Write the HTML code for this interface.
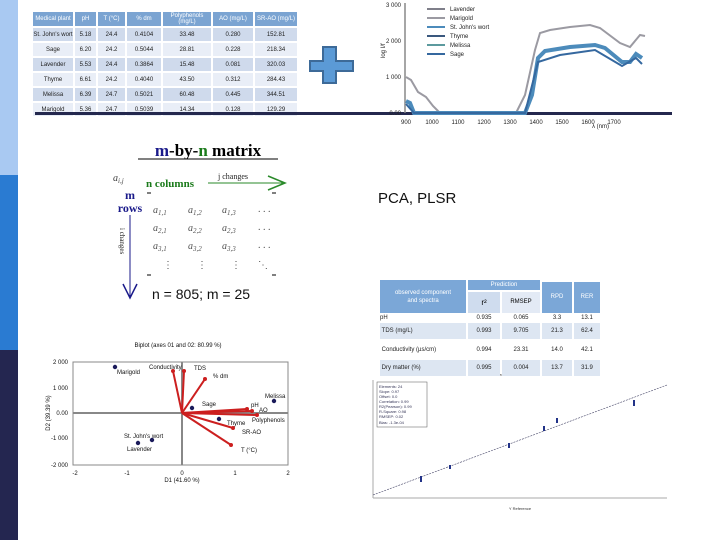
<!DOCTYPE html>
<html><head><meta charset="utf-8"><style>
body{margin:0;width:720px;height:540px;background:#fff;position:relative;overflow:hidden;font-family:"Liberation Sans",sans-serif}
.a{position:absolute}
table{border-collapse:separate;border-spacing:2px;font-size:6px;color:#222}
td{text-align:center;padding:0}
</style></head><body>
<div class="a" style="left:0;top:0;width:18px;height:175px;background:#a9c9f2"></div>
<div class="a" style="left:0;top:175px;width:18px;height:175px;background:#2a7bd2"></div>
<div class="a" style="left:0;top:350px;width:18px;height:190px;background:#242650"></div>

<!-- top table -->
<table class="a" style="left:31px;top:10px;">
<tr style="height:14px;color:#fff;background:#7ba4d2"><td style="width:40px;background:#7ba4d2">Medical plant</td><td style="width:21px;background:#7ba4d2">pH</td><td style="width:27px;background:#7ba4d2">T (°C)</td><td style="width:34px;background:#7ba4d2">% dm</td><td style="width:48px;background:#7ba4d2">Polyphenols (mg/L)</td><td style="width:40px;background:#7ba4d2">AO (mg/L)</td><td style="width:42px;background:#7ba4d2">SR-AO (mg/L)</td></tr>
<tr style="height:13px;background:#cfdaec"><td>St. John's wort</td><td>5.18</td><td>24.4</td><td>0.4104</td><td>33.48</td><td>0.280</td><td>152.81</td></tr>
<tr style="height:13px;background:#e9eef7"><td>Sage</td><td>6.20</td><td>24.2</td><td>0.5044</td><td>28.81</td><td>0.228</td><td>218.34</td></tr>
<tr style="height:13px;background:#cfdaec"><td>Lavender</td><td>5.53</td><td>24.4</td><td>0.3864</td><td>15.48</td><td>0.081</td><td>320.03</td></tr>
<tr style="height:13px;background:#e9eef7"><td>Thyme</td><td>6.61</td><td>24.2</td><td>0.4040</td><td>43.50</td><td>0.312</td><td>284.43</td></tr>
<tr style="height:13px;background:#cfdaec"><td>Melissa</td><td>6.39</td><td>24.7</td><td>0.5021</td><td>60.48</td><td>0.445</td><td>344.51</td></tr>
<tr style="height:13px;background:#e9eef7"><td>Marigold</td><td>5.36</td><td>24.7</td><td>0.5039</td><td>14.34</td><td>0.128</td><td>129.29</td></tr>
</table>
<div class="a" style="left:35px;top:112px;width:637px;height:3px;background:#24284e"></div>

<!-- plus + spectra -->
<svg class="a" style="left:0;top:0" width="720" height="540">
<path d="M323 47h13v14h17v10h-17v12h-13v-12h-13v-10h13z" fill="#5b9ad6" stroke="#3d6a98" stroke-width="2"/>
<g font-size="6" fill="#222" font-family="Liberation Sans">
<line x1="405" y1="3" x2="405" y2="113" stroke="#888" stroke-width="1.5"/>
<text x="401" y="7" text-anchor="end">3 000</text><text x="401" y="43" text-anchor="end">2 000</text><text x="401" y="79" text-anchor="end">1 000</text><text x="401" y="115" text-anchor="end">0.00</text>
<text x="385" y="58" transform="rotate(-90 385 58)">log I/f</text>
<g text-anchor="middle"><text x="406" y="124">900</text><text x="432" y="124">1000</text><text x="458" y="124">1100</text><text x="484" y="124">1200</text><text x="510" y="124">1300</text><text x="536" y="124">1400</text><text x="562" y="124">1500</text><text x="588" y="124">1600</text><text x="614" y="124">1700</text></g>
<text x="592" y="128">λ (nm)</text>
<g fill="none" stroke-width="2">
<line x1="427" y1="9" x2="445" y2="9" stroke="#7f7f8a"/><line x1="427" y1="18" x2="445" y2="18" stroke="#9b9aa2"/><line x1="427" y1="27" x2="445" y2="27" stroke="#4c8bbb"/><line x1="427" y1="36" x2="445" y2="36" stroke="#3a587e"/><line x1="427" y1="45" x2="445" y2="45" stroke="#5c9a9e"/><line x1="427" y1="54" x2="445" y2="54" stroke="#35689f"/>
<path d="M406 77 L411 80 L418 92 L426 97 L433 106 L440 113 L516 113 L525 95 L535 50 L540 33 L550 30 L570 27 L590 25 L600 28 L620 43 L630 47 L640 35 L645 36" stroke="#9b9aa2"/>
<path d="M406 101 L410 103 L414 113 L525 113 L532 95 L538 58 L545 51 L570 47 L595 45 L605 48 L622 62 L630 62 L636 54 L642 58" stroke="#4c8bbb" stroke-width="4"/>
<path d="M406 104 L414 113 L525 113 L538 62 L560 55 L595 50 L622 66 L636 58 L642 64" stroke="#35689f" stroke-width="2"/>
</g>
<text x="450" y="11">Lavender</text><text x="450" y="20">Marigold</text><text x="450" y="29">St. John's wort</text><text x="450" y="38">Thyme</text><text x="450" y="47">Melissa</text><text x="450" y="56">Sage</text>
</g>

<!-- matrix -->
<g font-family="Liberation Serif" >
<text x="208" y="156" text-anchor="middle" font-size="17" font-weight="bold"><tspan fill="#1a1a8a">m</tspan>-by-<tspan fill="#1a7a1a">n</tspan> matrix</text>
<line x1="138" y1="159" x2="278" y2="159" stroke="#000"/>
<text x="113" y="181" font-size="10" font-style="italic" fill="#444">a<tspan font-size="7" dy="2">i,j</tspan></text>
<text x="146" y="187" font-size="11" font-weight="bold" fill="#1a7a1a">n columns</text>
<text x="218" y="179" font-size="8" fill="#222">j changes</text>
<line x1="208" y1="183" x2="284" y2="183" stroke="#2a8a2a"/><path d="M268 176 L285 183 L268 190" fill="none" stroke="#2a8a2a" stroke-width="1.5"/>
<text x="130" y="199" font-size="12" font-weight="bold" fill="#1a1a8a" text-anchor="middle">m</text>
<text x="130" y="212" font-size="12" font-weight="bold" fill="#1a1a8a" text-anchor="middle">rows</text>
<line x1="130" y1="215" x2="130" y2="298" stroke="#1a1a8a"/><path d="M123 284 L130 298 L137 284" fill="none" stroke="#1a1a8a" stroke-width="1.5"/>
<text x="122" y="228" font-size="7" fill="#222" writing-mode="tb">i changes</text>
<g font-size="10" font-style="italic" fill="#555">
<text x="153" y="213">a<tspan font-size="7" dy="2">1,1</tspan></text><text x="188" y="213">a<tspan font-size="7" dy="2">1,2</tspan></text><text x="222" y="213">a<tspan font-size="7" dy="2">1,3</tspan></text>
<text x="153" y="231">a<tspan font-size="7" dy="2">2,1</tspan></text><text x="188" y="231">a<tspan font-size="7" dy="2">2,2</tspan></text><text x="222" y="231">a<tspan font-size="7" dy="2">2,3</tspan></text>
<text x="153" y="249">a<tspan font-size="7" dy="2">3,1</tspan></text><text x="188" y="249">a<tspan font-size="7" dy="2">3,2</tspan></text><text x="222" y="249">a<tspan font-size="7" dy="2">3,3</tspan></text>
<text x="258" y="212" font-style="normal">. . .</text><text x="258" y="230" font-style="normal">. . .</text><text x="258" y="248" font-style="normal">. . .</text>
<text x="163" y="268" font-style="normal">⋮</text><text x="197" y="268" font-style="normal">⋮</text><text x="231" y="268" font-style="normal">⋮</text><text x="258" y="268" font-style="normal">⋱</text>
</g>
<line x1="147" y1="193" x2="151" y2="193" stroke="#000"/><line x1="272" y1="193" x2="276" y2="193" stroke="#000"/>
<line x1="147" y1="275" x2="151" y2="275" stroke="#000"/><line x1="272" y1="275" x2="276" y2="275" stroke="#000"/>
</g>
<text x="152" y="299" font-size="14" fill="#111" font-family="Liberation Sans">n = 805; m = 25</text>
<text x="378" y="203" font-size="15" fill="#111" font-family="Liberation Sans">PCA, PLSR</text>

<!-- biplot -->
<g font-family="Liberation Sans" font-size="6" fill="#111">
<text x="178" y="347" text-anchor="middle">Biplot (axes 01 and 02: 80.99 %)</text>
<rect x="73" y="362" width="215" height="103" fill="none" stroke="#888"/>
<line x1="182" y1="362" x2="182" y2="465" stroke="#888" stroke-width="2"/>
<line x1="73" y1="413" x2="288" y2="413" stroke="#888" stroke-width="2"/>
<g text-anchor="end"><text x="68" y="364">2 000</text><text x="68" y="390">1 000</text><text x="68" y="415">0.00</text><text x="68" y="440">-1 000</text><text x="68" y="467">-2 000</text></g>
<g text-anchor="middle"><text x="75" y="475">-2</text><text x="127" y="475">-1</text><text x="182" y="475">0</text><text x="235" y="475">1</text><text x="288" y="475">2</text></g>
<text x="182" y="482" text-anchor="middle">D1 (41.60 %)</text>
<text x="50" y="413" text-anchor="middle" transform="rotate(-90 50 413)">D2 (39.39 %)</text>
<g stroke="#cc1f1f" stroke-width="2">
<line x1="182" y1="413" x2="173" y2="371"/><line x1="182" y1="413" x2="184" y2="371"/><line x1="182" y1="413" x2="205" y2="379"/><line x1="182" y1="413" x2="247" y2="409"/><line x1="182" y1="413" x2="252" y2="411"/><line x1="182" y1="413" x2="257" y2="415"/><line x1="182" y1="413" x2="233" y2="428"/><line x1="182" y1="413" x2="231" y2="445"/>
</g>
<g fill="#cc1f1f"><circle cx="173" cy="371" r="2"/><circle cx="184" cy="371" r="2"/><circle cx="205" cy="379" r="2"/><circle cx="247" cy="409" r="2"/><circle cx="252" cy="411" r="2"/><circle cx="257" cy="415" r="2"/><circle cx="233" cy="428" r="2"/><circle cx="231" cy="445" r="2"/></g>
<g fill="#1a1a5a"><circle cx="115" cy="367" r="2.2"/><circle cx="274" cy="401" r="2.2"/><circle cx="192" cy="408" r="2.2"/><circle cx="219" cy="419" r="2.2"/><circle cx="152" cy="440" r="2.2"/><circle cx="138" cy="443" r="2.2"/></g>
<text x="149" y="369">Conductivity</text><text x="194" y="370">TDS</text><text x="213" y="378">% dm</text><text x="202" y="406">Sage</text><text x="251" y="407">pH</text><text x="259" y="412">AO</text><text x="252" y="422">Polyphenols</text><text x="227" y="425">Thyme</text><text x="242" y="434">SR-AO</text><text x="241" y="452">T (°C)</text><text x="265" y="398">Melissa</text><text x="117" y="374">Marigold</text><text x="124" y="438">St. John's wort</text><text x="127" y="451">Lavender</text>
</g>

<!-- scatter -->
<g font-family="Liberation Sans" font-size="4" fill="#333">
<text x="508" y="376" text-anchor="middle">Predicted vs. Reference</text>
<line x1="373" y1="380" x2="373" y2="498" stroke="#aaa"/><line x1="373" y1="498" x2="667" y2="498" stroke="#aaa"/>
<rect x="377" y="382" width="50" height="45" fill="#fff" stroke="#555" stroke-width="0.5"/>
<text x="379" y="388" fill="#335">Elements: 24</text><text x="379" y="393" fill="#335">Slope: 0.97</text><text x="379" y="398" fill="#335">Offset: 0.0</text><text x="379" y="403" fill="#335">Correlation: 0.99</text><text x="379" y="408" fill="#335">R2(Pearson): 0.99</text><text x="379" y="413" fill="#335">R-Square: 0.98</text><text x="379" y="418" fill="#335">RMSEP: 0.02</text><text x="379" y="424" fill="#335">Bias: -1.3e-04</text>
<line x1="373" y1="495" x2="667" y2="385" stroke="#446" stroke-dasharray="2 1" stroke-width="0.6"/>
<g fill="#223388"><rect x="420" y="476" width="2" height="6"/><rect x="449" y="465" width="2" height="4"/><rect x="508" y="443" width="2" height="5"/><rect x="543" y="426" width="2" height="5"/><rect x="556" y="418" width="2" height="5"/><rect x="633" y="400" width="2" height="6"/></g>
<text x="520" y="510" text-anchor="middle">Y Reference</text>
</g>
</svg>

<!-- prediction table -->
<div class="a" style="left:380px;top:280px;width:86px;height:33px;background:#7ba7d7;color:#fff;font-size:6px;text-align:center;line-height:8px;padding-top:9px;box-sizing:border-box">observed component<br>and spectra</div>
<div class="a" style="left:468px;top:280px;width:72px;height:10px;background:#7ba7d7;color:#fff;font-size:6px;text-align:center;line-height:10px">Prediction</div>
<div class="a" style="left:468px;top:292px;width:32px;height:21px;background:#cfdcee;font-size:8px;text-align:center;line-height:21px">r²</div>
<div class="a" style="left:502px;top:292px;width:38px;height:21px;background:#e3eaf5;font-size:6px;text-align:center;line-height:21px">RMSEP</div>
<div class="a" style="left:542px;top:282px;width:30px;height:31px;background:#7ba7d7;color:#fff;font-size:6px;text-align:center;line-height:31px">RPD</div>
<div class="a" style="left:574px;top:282px;width:26px;height:31px;background:#7ba7d7;color:#fff;font-size:6px;text-align:center;line-height:31px">RER</div>
<table class="a" style="left:378px;top:313px;font-size:6px">
<tr style="height:6px;background:#fff"><td style="width:86px;text-align:left">pH</td><td style="width:32px">0.935</td><td style="width:38px">0.065</td><td style="width:30px">3.3</td><td style="width:26px">13.1</td></tr>
<tr style="height:16px;background:#dde6f2"><td style="text-align:left">&nbsp;TDS (mg/L)</td><td>0.993</td><td>9.705</td><td>21.3</td><td>62.4</td></tr>
<tr style="height:17px;background:#fff"><td style="text-align:left">&nbsp;Conductivity (µs/cm)</td><td>0.994</td><td>23.31</td><td>14.0</td><td>42.1</td></tr>
<tr style="height:16px;background:#dde6f2"><td style="text-align:left">&nbsp;Dry matter (%)</td><td>0.995</td><td>0.004</td><td>13.7</td><td>31.9</td></tr>
</table>
</body></html>
